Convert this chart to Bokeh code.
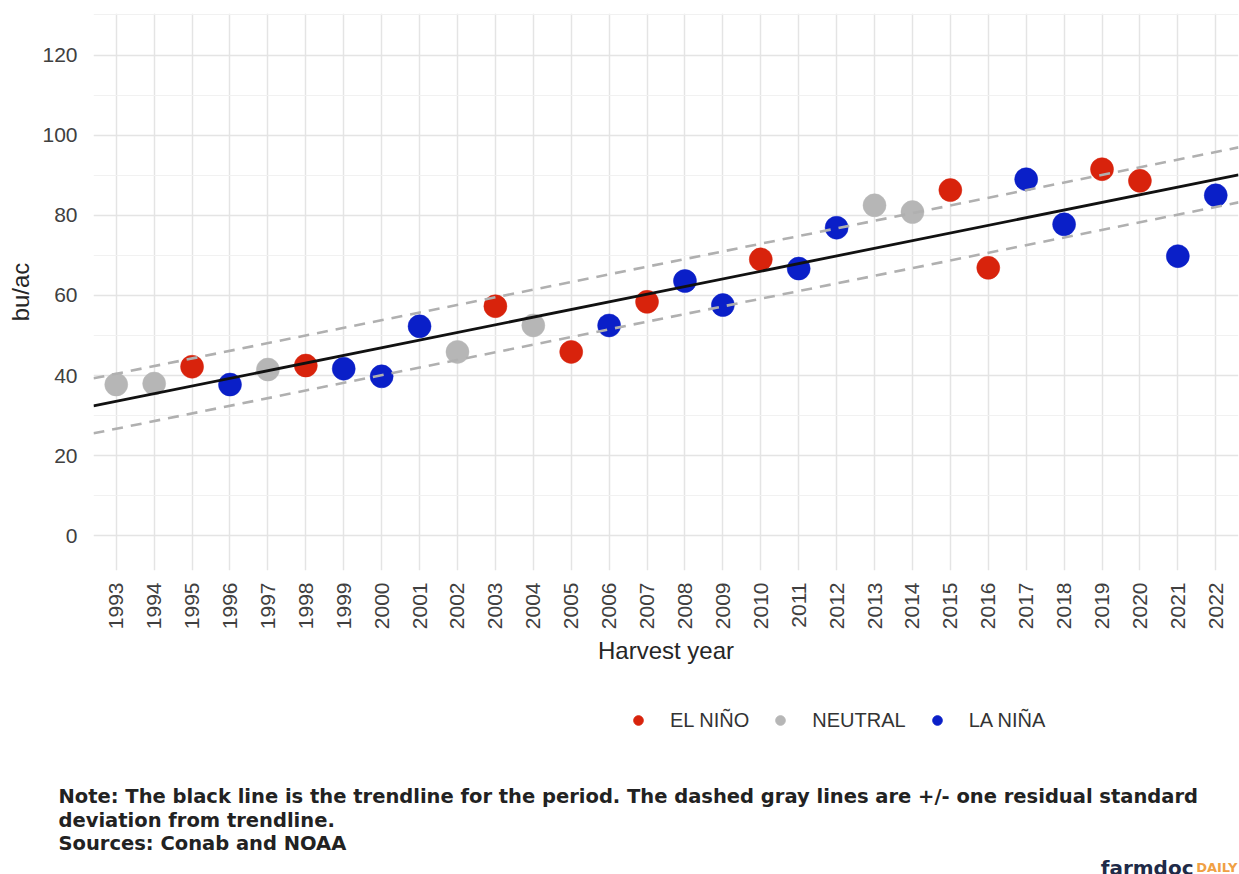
import numpy as np
from bokeh.plotting import figure
from bokeh.layouts import column
from bokeh.models import (ColumnDataSource, FixedTicker, Legend, LegendItem,
                          Range1d, Title)
from bokeh.core.properties import value
from bokeh.embed import file_html
from bokeh.resources import INLINE

# ---------------- data ----------------
years = list(range(1993, 2023))
yields = [37.75, 38.0, 42.2, 37.75, 41.5, 42.5, 41.7, 39.8, 52.3, 45.9,
          57.3, 52.5, 45.9, 52.5, 58.4, 63.6, 57.6, 69.0, 66.7, 76.9,
          82.5, 80.8, 86.3, 66.9, 89.0, 77.75, 91.5, 88.6, 69.8, 85.0]
phases = ["NEUTRAL", "NEUTRAL", "EL NIÑO", "LA NIÑA", "NEUTRAL", "EL NIÑO",
          "LA NIÑA", "LA NIÑA", "LA NIÑA", "NEUTRAL", "EL NIÑO", "NEUTRAL",
          "EL NIÑO", "LA NIÑA", "EL NIÑO", "LA NIÑA", "LA NIÑA", "EL NIÑO",
          "LA NIÑA", "LA NIÑA", "NEUTRAL", "NEUTRAL", "EL NIÑO", "EL NIÑO",
          "LA NIÑA", "LA NIÑA", "EL NIÑO", "EL NIÑO", "LA NIÑA", "LA NIÑA"]
categories = ["EL NIÑO", "NEUTRAL", "LA NIÑA"]
cat_colors = ["#d8230c", "#b6b6b6", "#0a1fc8"]
y_ticks = [0, 20, 40, 60, 80, 100, 120]
y_minor = [10, 30, 50, 70, 90, 110, 130]

note_lines = [
    "Note: The black line is the trendline for the period. The dashed gray lines are +/- one residual standard",
    "deviation from trendline.",
    "Sources: Conab and NOAA",
]

FONT = "Liberation Sans"
W = 1239


def strip(height, fill="white"):
    f = figure(width=W, height=height, x_range=Range1d(93, 1238),
               y_range=Range1d(0, 1), output_backend="svg",
               toolbar_location=None, min_border_left=93, min_border_right=1,
               min_border_top=0, min_border_bottom=0)
    f.axis.visible = False
    f.grid.visible = False
    f.outline_line_color = None
    f.background_fill_color = fill
    f.border_fill_color = fill
    return f


# ---------------- main chart ----------------
x0, x1 = 1992.4, 2022.6
y0, y1 = -8.66, 130.37
p = figure(width=W, height=686, x_range=Range1d(x0, x1),
           y_range=Range1d(y0, y1), output_backend="svg",
           toolbar_location=None, min_border_left=93, min_border_right=1,
           min_border_top=13, min_border_bottom=116)
p.outline_line_color = None
p.background_fill_color = "white"
p.border_fill_color = "white"

p.xaxis.ticker = FixedTicker(ticks=years)
p.yaxis.ticker = FixedTicker(ticks=y_ticks, minor_ticks=y_minor)
p.xgrid.grid_line_color = "#e4e4e4"
p.xgrid.grid_line_width = 1.5
p.ygrid.grid_line_color = "#e4e4e4"
p.ygrid.grid_line_width = 1.5
p.ygrid.minor_grid_line_color = "#f1f1f1"
p.ygrid.minor_grid_line_width = 1.2

for ax in (p.xaxis[0], p.yaxis[0]):
    ax.axis_line_color = None
    ax.major_tick_line_color = None
    ax.minor_tick_line_color = None
    ax.major_label_text_font = FONT
    ax.major_label_text_font_size = "21px"
    ax.major_label_text_color = "#404040"
    ax.axis_label_text_font = FONT
    ax.axis_label_text_font_size = "24px"
    ax.axis_label_text_font_style = "normal"
    ax.axis_label_text_color = "#262626"
    ax.major_label_standoff = 12
p.yaxis.major_tick_out = 0
p.yaxis.axis_label_standoff = 5
p.xaxis.major_label_orientation = np.pi / 2
p.xaxis.major_label_standoff = 6
p.xaxis.axis_label = "Harvest year"
p.xaxis.axis_label_standoff = 5
p.yaxis.axis_label = "bu/ac"

for cat, col in zip(categories, cat_colors):
    xs = [x for x, ph in zip(years, phases) if ph == cat]
    ys = [y for y, ph in zip(yields, phases) if ph == cat]
    src = ColumnDataSource(dict(x=xs, y=ys))
    p.scatter("x", "y", source=src, size=23, fill_color=col,
              line_color=col, line_width=0.5)

# trendline and +/- one residual standard deviation
yr = np.array(years, dtype=float)
yv = np.array(yields, dtype=float)
slope, intercept = np.polyfit(yr, yv, 1)
resid = yv - (slope * yr + intercept)
sd = np.sqrt(np.sum(resid ** 2) / (len(yv) - 2))
lx = np.array([x0, x1])
ly = slope * lx + intercept
p.line(lx, ly + sd, line_color="#b0b0b0", line_width=2.6, line_dash="11 8")
p.line(lx, ly - sd, line_color="#b0b0b0", line_width=2.6, line_dash="11 8")
p.line(lx, ly, line_color="#111111", line_width=2.8)

# ---------------- legend + notes strip ----------------
q = strip(169)
proxies = []
for cat, col in zip(categories, cat_colors):
    rr = q.scatter(x=[np.nan], y=[np.nan], size=10, fill_color=col,
                   line_color=col)
    proxies.append(rr)
legend = Legend(items=[LegendItem(label=c, renderers=[rr])
                       for c, rr in zip(categories, proxies)],
                orientation="horizontal", location=(533, 51),
                glyph_width=24, glyph_height=24, label_standoff=20,
                spacing=19, padding=0, margin=0, border_line_color=None,
                background_fill_alpha=0, label_text_font=FONT,
                label_text_font_size="20px", label_text_color="#333333",
                label_height=24)
q.add_layout(legend, "center")

q.add_layout(Title(text="\n".join(note_lines), align="left", offset=-35,
                   standoff=0, text_font="DejaVu Sans",
                   text_font_size="19.5px", text_line_height=1.03,
                   text_font_style="bold", text_color="#222222"),
             "below")

# ---------------- logo strip (transparent, overlaps the notes row) -------
r = strip(29, fill=None)
r.margin = (-10, 0, 0, 0)
r.y_range = Range1d(874, 845)
r.text(x=[1193], y=[867], text=["farmdoc"], text_font=value("DejaVu Sans"),
       text_font_size="20px", text_font_style="bold", text_color="#1f2b48",
       text_baseline="alphabetic", text_align="right")
r.text(x=[1237], y=[867], text=["DAILY"], text_font=value("DejaVu Sans"),
       text_font_size="13px", text_font_style="bold", text_color="#f0a044",
       text_baseline="alphabetic", text_align="right")

layout = column(p, q, r, spacing=0)
open("out.html", "w").write(file_html(layout, INLINE))
